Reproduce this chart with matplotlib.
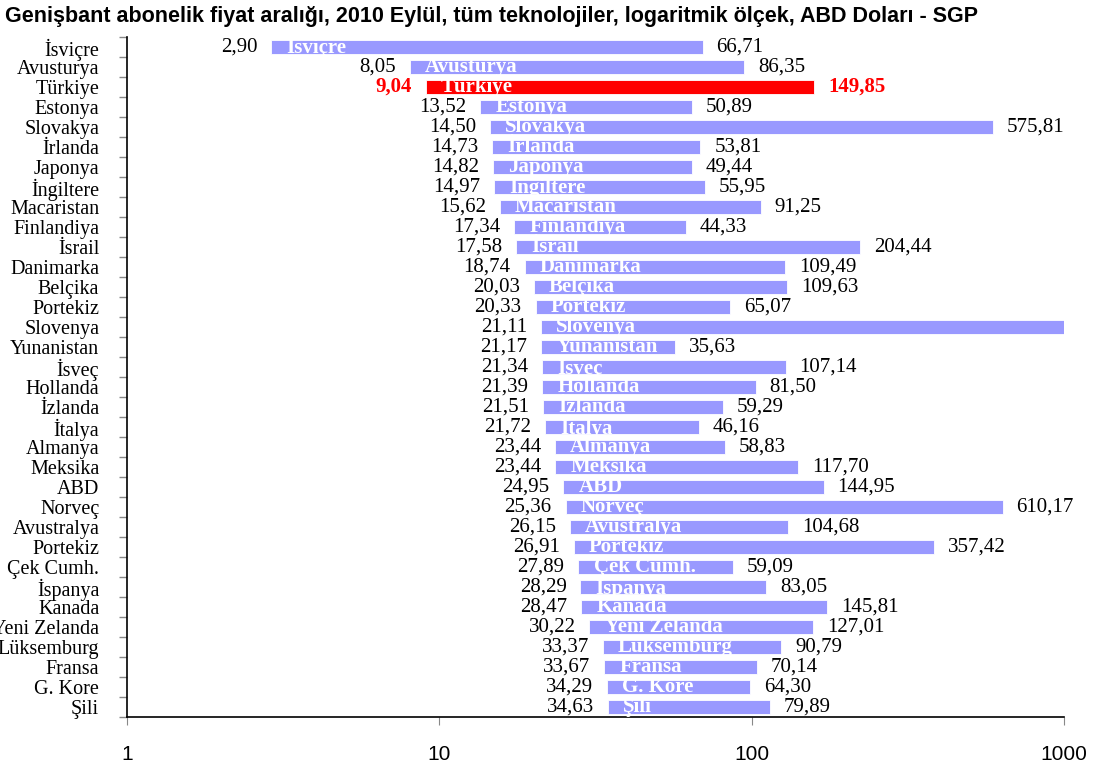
import matplotlib
matplotlib.use("Agg")
import matplotlib.pyplot as plt
import numpy as np

countries = ["İsviçre", "Avusturya", "Türkiye", "Estonya", "Slovakya", "İrlanda",
             "Japonya", "İngiltere", "Macaristan", "Finlandiya", "İsrail", "Danimarka",
             "Belçika", "Portekiz", "Slovenya", "Yunanistan", "İsveç", "Hollanda",
             "İzlanda", "İtalya", "Almanya", "Meksika", "ABD", "Norveç", "Avustralya",
             "Portekiz", "Çek Cumh.", "İspanya", "Kanada", "Yeni Zelanda", "Lüksemburg",
             "Fransa", "G. Kore", "Şili"]
min_price = [2.90, 8.05, 9.04, 13.52, 14.50, 14.73, 14.82, 14.97, 15.62, 17.34, 17.58,
             18.74, 20.03, 20.33, 21.11, 21.17, 21.34, 21.39, 21.51, 21.72, 23.44, 23.44,
             24.95, 25.36, 26.15, 26.91, 27.89, 28.29, 28.47, 30.22, 33.37, 33.67, 34.29,
             34.63]
max_price = [66.71, 86.35, 149.85, 50.89, 575.81, 53.81, 49.44, 55.95, 91.25, 44.33,
             204.44, 109.49, 109.63, 65.07, 1200.0, 35.63, 107.14, 81.50, 59.29, 46.16,
             58.83, 117.70, 144.95, 610.17, 104.68, 357.42, 59.09, 83.05, 145.81, 127.01,
             90.79, 70.14, 64.30, 79.89]
highlight = "Türkiye"


def fmt(v):
    return f"{v:.2f}".replace(".", ",")


fig = plt.figure(figsize=(10.94, 7.69), dpi=100)
ax = fig.add_axes([0.1161, 0.0676, 0.8565, 0.8843])

serif = "Liberation Serif"
fs = 15
y = np.arange(len(countries))
for i, (c, lo, hi) in enumerate(zip(countries, min_price, max_price)):
    hot = c == highlight
    col = "#ff0000" if hot else "#9999ff"
    # the source chart stacks the max value on top of the min value
    ax.barh(i, hi, left=lo, height=0.7, color=col, edgecolor="white",
            linewidth=0.6, zorder=2)
    ax.annotate(c, (lo, i), xytext=(11, 0), textcoords="offset points",
                color="white", fontweight="bold", family=serif,
                fontsize=fs, va="center", ha="left", zorder=3, clip_on=True)
    tc = "#ff0000" if hot else "black"
    fw = "bold" if hot else "normal"
    ax.annotate(fmt(lo), (lo, i), xytext=(-10, 0), textcoords="offset points",
                ha="right", va="center", fontsize=fs, family=serif, color=tc,
                fontweight=fw, zorder=5)
    if lo + hi < 1000:
        ax.annotate(fmt(hi), (lo + hi, i), xytext=(10, 0), textcoords="offset points",
                    ha="left", va="center", fontsize=fs, family=serif, color=tc,
                    fontweight=fw, zorder=5)

ax.set_xscale("log")
ax.set_xlim(1, 1000)
ax.set_ylim(len(countries) - 0.5, -0.5)
ax.set_yticks(y)
ax.set_yticklabels(countries, family=serif, fontsize=14.5)
ax.tick_params(axis="y", which="major", length=0, pad=20)
ax.set_yticks(np.arange(-0.5, len(countries), 1), minor=True)
ax.tick_params(axis="y", which="minor", length=6, color="#888888", width=1)
ax.set_xticks([1, 10, 100, 1000])
ax.set_xticklabels(["1", "10", "100", "1000"], family="Liberation Sans", fontsize=15)
ax.xaxis.set_minor_locator(matplotlib.ticker.NullLocator())
ax.tick_params(axis="x", which="major", length=6, color="#888888", pad=14)
for s in ["top", "right"]:
    ax.spines[s].set_visible(False)
ax.spines["left"].set_linewidth(1.2)
ax.spines["bottom"].set_linewidth(1.2)

fig.text(0.005, 0.979, "Genişbant abonelik fiyat aralığı, 2010 Eylül, tüm teknolojiler, "
         "logaritmik ölçek, ABD Doları - SGP", family="Liberation Sans",
         fontweight="bold", fontsize=15.5, va="center", ha="left")

fig.savefig("out.png", dpi=100)
